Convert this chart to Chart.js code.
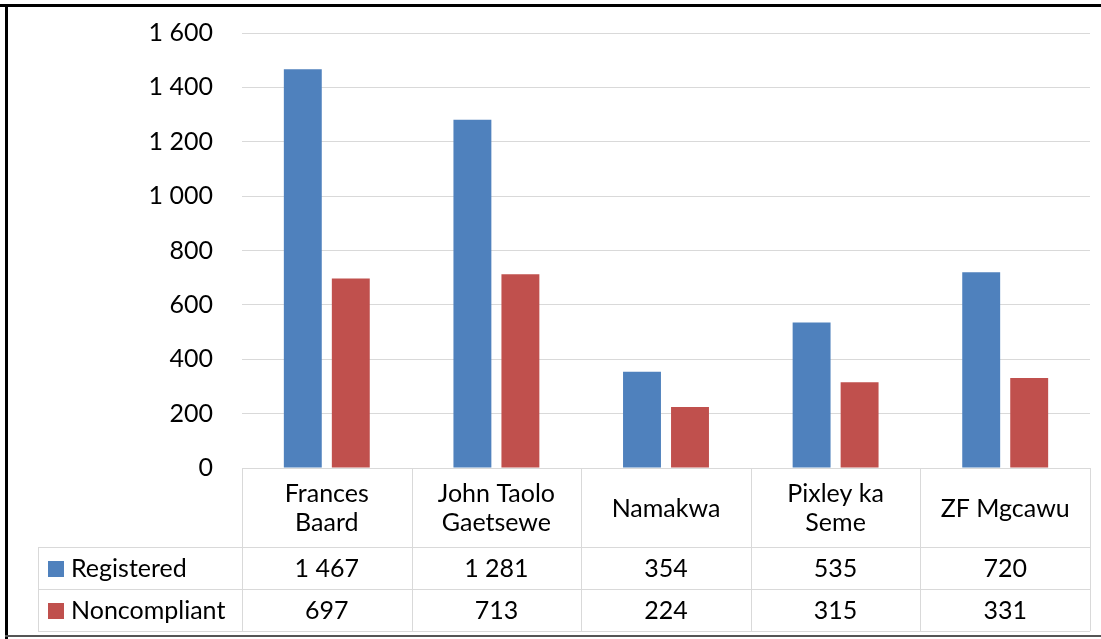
<!DOCTYPE html>
<html>
<head>
<meta charset="utf-8">
<script src="https://cdn.jsdelivr.net/npm/chart.js@4.4.0/dist/chart.umd.min.js"></script>
<style>
  html, body { margin: 0; padding: 0; background: #fff; }
  #wrap { position: relative; width: 1101px; height: 639px; }
</style>
</head>
<body>
<div id="wrap"><canvas id="grafico" width="1101" height="639"></canvas></div>
<script>
// datos del grafico
const categorias = [['Frances', 'Baard'], ['John Taolo', 'Gaetsewe'], 'Namakwa', ['Pixley ka', 'Seme'], 'ZF Mgcawu'];
const registrados = [1467, 1281, 354, 535, 720];
const incumplidos = [697, 713, 224, 315, 331];
const nombresSeries = ['Registered', 'Noncompliant'];
const ticksY = [0, 200, 400, 600, 800, 1000, 1200, 1400, 1600];

const AZUL = '#4F81BD';
const ROJO = '#C0504D';
const LINEA = '#d9d9d9';
const FUENTE = 'Lato, "Open Sans", sans-serif';
const TAM = 25;

// separador de miles con espacio
function formato(n) {
    return String(n).replace(/\B(?=(\d{3})+(?!\d))/g, ' ');
}

// tabla de datos + marco
const tablaPlugin = {
    id: 'tablaDatos',
    beforeDraw(chart) {
        const ctx = chart.ctx;
        ctx.save();
        ctx.fillStyle = '#fff';
        ctx.fillRect(0, 0, chart.width, chart.height);
        ctx.restore();
    },
    afterDraw(chart) {
        const ctx = chart.ctx;
        const x = chart.scales.x;
        const area = chart.chartArea;
        const n = categorias.length;
        const ancho = (x.getPixelForValue(1) - x.getPixelForValue(0));
        const izq = x.getPixelForValue(0) - ancho / 2;
        const der = x.getPixelForValue(n - 1) + ancho / 2;
        const topHeader = area.bottom;
        const topFilas = x.bottom;
        const altoFila = 42;
        const izqTabla = 38;
        const fondo = topFilas + altoFila * 2;

        ctx.save();
        ctx.strokeStyle = LINEA;
        ctx.lineWidth = 1;
        ctx.beginPath();
        // verticales
        for (let i = 0; i <= n; i++) {
            const px = Math.round(izq + ancho * i) + 0.5;
            ctx.moveTo(px, topHeader);
            ctx.lineTo(px, fondo);
        }
        ctx.moveTo(izqTabla + 0.5, topFilas);
        ctx.lineTo(izqTabla + 0.5, fondo);
        // horizontales
        for (let r = 0; r <= 2; r++) {
            const py = Math.round(topFilas + altoFila * r) + 0.5;
            ctx.moveTo(izqTabla, py);
            ctx.lineTo(der, py);
        }
        ctx.stroke();

        // filas
        ctx.font = TAM + 'px ' + FUENTE;
        ctx.textBaseline = 'middle';
        chart.data.datasets.forEach((ds, r) => {
            const cy = topFilas + altoFila * r + altoFila / 2 + 1;
            ctx.fillStyle = ds.backgroundColor;
            ctx.fillRect(48, cy - 8, 16, 16);
            ctx.fillStyle = '#000';
            ctx.textAlign = 'left';
            ctx.fillText(ds.label, 71, cy);
            ctx.textAlign = 'center';
            ds.data.forEach((v, i) => {
                ctx.fillText(formato(v), x.getPixelForValue(i), cy);
            });
        });

        // marco
        ctx.fillStyle = '#000';
        ctx.fillRect(0, 4, chart.width, 3);
        ctx.fillRect(5, 4, 3, chart.height - 4);
        ctx.fillStyle = '#555';
        ctx.fillRect(5, 635, chart.width, 2);
        ctx.restore();
    }
};

new Chart(document.getElementById('grafico'), {
    type: 'bar',
    data: {
        labels: categorias,
        datasets: [
            { label: nombresSeries[0], data: registrados, backgroundColor: AZUL },
            { label: nombresSeries[1], data: incumplidos, backgroundColor: ROJO }
        ]
    },
    options: {
        responsive: false,
        animation: false,
        categoryPercentage: 0.566,
        barPercentage: 0.79,
        layout: { padding: { left: 0, right: 11, top: 33, bottom: 92 } },
        plugins: { legend: { display: false }, tooltip: { enabled: false } },
        scales: {
            x: {
                grid: { display: false, drawTicks: false },
                border: { display: true, color: LINEA },
                ticks: {
                    color: '#000',
                    font: { family: FUENTE, size: TAM, lineHeight: 1.16 },
                    padding: 26,
                    crossAlign: 'center',
                    maxRotation: 0,
                    autoSkip: false
                },
                afterFit(scale) { scale.height = 79; }
            },
            y: {
                min: 0,
                max: 1600,
                afterBuildTicks(scale) { scale.ticks = ticksY.map(v => ({ value: v })); },
                grid: { color: LINEA, drawTicks: false },
                border: { display: false },
                ticks: {
                    color: '#000',
                    font: { family: FUENTE, size: TAM },
                    padding: 29,
                    callback: v => formato(v)
                },
                afterFit(scale) {
                    scale.width = 242;
                    scale.paddingTop = 0;
                    scale.paddingBottom = 0;
                }
            }
        }
    },
    plugins: [tablaPlugin]
});
</script>
</body>
</html>
